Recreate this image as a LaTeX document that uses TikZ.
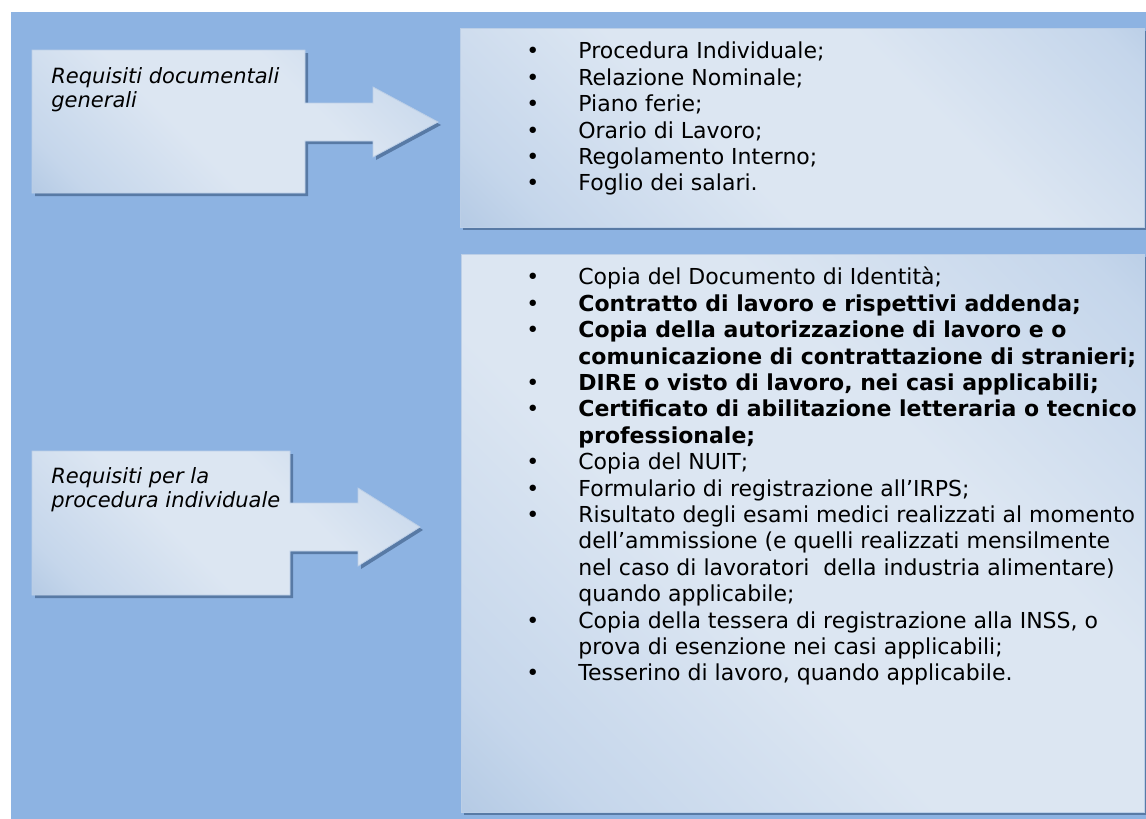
\documentclass[tikz,border=0pt]{standalone}
\usepackage{fontspec}
\setmainfont{DejaVu Sans}
\usetikzlibrary{shadows}

\definecolor{bgblue}{RGB}{141,179,226}
\definecolor{boxlight}{RGB}{220,230,242}
\definecolor{boxmid}{RGB}{197,214,235}
\definecolor{boxdark}{RGB}{150,180,216}
\definecolor{boxedge}{RGB}{188,207,231}
\definecolor{shadowblue}{RGB}{88,122,165}

\pgfdeclareverticalshading{boxshade}{100bp}{color(0bp)=(boxdark); color(22bp)=(boxmid); color(42bp)=(boxlight); color(62bp)=(boxlight); color(82bp)=(boxmid); color(100bp)=(boxdark)}

\newcommand{\bul}[1]{\makebox[26pt][l]{\textbullet}#1}
\newcommand{\cnt}[1]{\hspace*{26pt}#1}

\begin{document}
\begin{tikzpicture}
[x=0.5pt,y=-0.5pt
,callbox/.style={draw=boxedge,line width=0.4pt,shade,shading=boxshade,shading angle=-45
  ,drop shadow={shadow xshift=1.5pt,shadow yshift=-1.5pt,fill=shadowblue,opacity=1}}
,listbox/.style={callbox,rectangle,inner sep=0pt,anchor=north west}
,lbl/.style={font=\fontsize{10.5}{12}\selectfont\itshape,align=left,anchor=north west,inner sep=0pt}
,lst/.style={font=\fontsize{11}{13.2}\selectfont,align=left,anchor=north west,inner sep=0pt}]
\useasboundingbox (0,0) rectangle (1146,819);
\fill[bgblue] (11,12) rectangle (1146,819);
% boxes with arrows
\path[callbox] (32,50) -- (305,50) -- (305,103) -- (373,103) -- (373,87) -- (438,122)
  -- (373,157) -- (373,141) -- (305,141) -- (305,193) -- (32,193) -- cycle;
\path[callbox] (32,451) -- (290,451) -- (290,503) -- (358,503) -- (358,488) -- (420,527)
  -- (358,566) -- (358,551) -- (290,551) -- (290,595) -- (32,595) -- cycle;
\node[lbl] (gen) at (51,66) {\strut Requisiti documentali\\generali};
\node[lbl] (ind) at (51,466) {\strut Requisiti per la\\procedura individuale};
% lists
\node[listbox,minimum width=342pt,minimum height=99.5pt] (genbox) at (460,28) {};
\node[listbox,minimum width=341.5pt,minimum height=279pt] (indbox) at (461,254) {};
\node[lst] (genlist) at (526,40) {\strut\bul{Procedura Individuale;}\\
\bul{Relazione Nominale;}\\
\bul{Piano ferie;}\\
\bul{Orario di Lavoro;}\\
\bul{Regolamento Interno;}\\
\bul{Foglio dei salari.}};
\node[lst] (indlist) at (526,266) {\strut\bul{Copia del Documento di Identità;}\\
\bul{\textbf{Contratto di lavoro e rispettivi addenda;}}\\
\bul{\textbf{Copia della autorizzazione di lavoro e o}}\\
\cnt{\textbf{comunicazione di contrattazione di stranieri;}}\\
\bul{\textbf{DIRE o visto di lavoro, nei casi applicabili;}}\\
\bul{\textbf{Certificato di abilitazione letteraria o tecnico}}\\
\cnt{\textbf{professionale;}}\\
\bul{Copia del NUIT;}\\
\bul{Formulario di registrazione all’IRPS;}\\
\bul{Risultato degli esami medici realizzati al momento}\\
\cnt{dell’ammissione (e quelli realizzati mensilmente}\\
\cnt{nel caso di lavoratori~ della industria alimentare)}\\
\cnt{quando applicabile;}\\
\bul{Copia della tessera di registrazione alla INSS, o}\\
\cnt{prova di esenzione nei casi applicabili;}\\
\bul{Tesserino di lavoro, quando applicabile.}};
\end{tikzpicture}
\end{document}
